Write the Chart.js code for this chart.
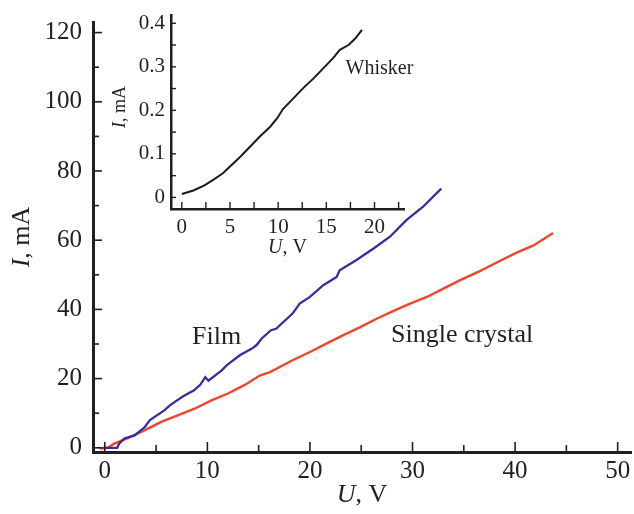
<!DOCTYPE html>
<html>
<head>
<meta charset="utf-8">
<script src="https://cdn.jsdelivr.net/npm/chart.js@4.4.1/dist/chart.umd.min.js"></script>
<style>
  html, body { margin: 0; padding: 0; background: #fff; }
  #wrap { position: relative; width: 634px; height: 514px; }
  #wrap canvas { position: absolute; left: 0; top: 0; }
</style>
</head>
<body>
<div id="wrap">
  <canvas id="mainChart" width="634" height="514"></canvas>
  <canvas id="insetChart" width="634" height="514"></canvas>
</div>
<script>
// Film (blue) I-U curve, mA vs V
const filmU = [-0.2, 1.2, 1.4, 1.9, 2.9, 3.9, 4.4, 5.8, 6.4, 7.6, 8.7, 9.3, 9.8, 10.1, 11.4, 11.9, 13.2, 14.3, 14.8, 15.3, 16.2, 16.7, 18.3, 19.0, 20.0, 21.3, 22.6, 22.9, 24.5, 26.2, 27.8, 29.4, 31.0, 32.8];
const filmI = [0.0, 0.0, 1.2, 2.7, 3.6, 6.0, 8.0, 10.8, 12.4, 14.8, 16.6, 18.2, 20.4, 19.4, 22.4, 23.9, 26.8, 28.6, 29.7, 31.6, 34.0, 34.4, 38.8, 41.7, 43.6, 47.0, 49.4, 51.3, 54.2, 57.6, 61.0, 65.8, 69.6, 74.9];

// Single crystal (red)
const crystalU = [-0.5, 0.3, 0.9, 2.2, 3.9, 5.5, 7.1, 8.75, 10.4, 12.0, 13.6, 15.1, 16.1, 18.3, 20.0, 21.6, 23.2, 24.9, 26.5, 28.1, 29.7, 31.4, 33.0, 34.6, 36.5, 38.5, 40.2, 41.8, 43.7];
const crystalI = [-0.2, 0.0, 1.2, 2.7, 5.1, 7.5, 9.4, 11.3, 13.7, 15.7, 18.1, 20.9, 21.9, 25.3, 27.7, 30.1, 32.5, 34.9, 37.3, 39.5, 41.6, 43.6, 46.0, 48.4, 51.0, 54.0, 56.5, 58.5, 62.1];

// Whisker (inset, black)
const whiskerU = [0.0, 1.2, 2.3, 3.3, 4.3, 5.0, 6.1, 7.1, 8.1, 9.2, 9.9, 10.5, 11.6, 12.6, 13.7, 14.7, 15.7, 16.4, 17.3, 18.0, 18.7];
const whiskerI = [0.008, 0.016, 0.027, 0.041, 0.056, 0.071, 0.094, 0.117, 0.140, 0.163, 0.182, 0.203, 0.228, 0.251, 0.274, 0.297, 0.320, 0.339, 0.350, 0.365, 0.385];

// tick values
const mainXTicks = [0, 10, 20, 30, 40, 50];
const mainXMinor = [5, 15, 25, 35, 45];
const mainYTicks = [0, 20, 40, 60, 80, 100, 120];
const mainYMinor = [10, 30, 50, 70, 90, 110];
const insetXTicks = [0, 5, 10, 15, 20];
const insetXMinor = [2.5, 7.5, 12.5, 17.5, 22.5];
const insetYTicks = [0, 0.1, 0.2, 0.3, 0.4];
const insetYMinor = [0.05, 0.15, 0.25, 0.35];

const SERIF = '"Liberation Serif", "DejaVu Serif", serif';
const INK = '#231f20';

function pts(xs, ys) {
  return xs.map((x, i) => ({ x: x, y: ys[i] }));
}

function drawRich(ctx, t) {
  const fonts = t.parts.map(p => (p[1] ? 'italic ' : '') + t.size + 'px ' + SERIF);
  let w = 0;
  const ws = t.parts.map((p, i) => {
    ctx.font = fonts[i];
    const m = ctx.measureText(p[0]).width;
    w += m;
    return m;
  });
  ctx.save();
  ctx.translate(t.x, t.y);
  ctx.rotate(t.rot || 0);
  ctx.textBaseline = 'middle';
  ctx.textAlign = 'left';
  let x = -w / 2;
  t.parts.forEach((p, i) => {
    ctx.font = fonts[i];
    ctx.fillText(p[0], x, 0);
    x += ws[i];
  });
  ctx.restore();
}

// tick marks pointing into the plot, long for major, short for minor
const inwardTicks = {
  id: 'inwardTicks',
  afterDatasetsDraw(chart, args, o) {
    const ctx = chart.ctx, area = chart.chartArea;
    ctx.save();
    ctx.strokeStyle = INK;
    ['x', 'y'].forEach(id => {
      const spec = o[id], s = chart.scales[id];
      ctx.lineWidth = spec.width;
      s.ticks.forEach(t => {
        const len = spec.major.includes(t.value) ? spec.majorLen : spec.minorLen;
        const p = s.getPixelForValue(t.value);
        ctx.beginPath();
        if (id === 'x') {
          ctx.moveTo(p, area.bottom);
          ctx.lineTo(p, area.bottom - len);
        } else {
          ctx.moveTo(area.left, p);
          ctx.lineTo(area.left + len, p);
        }
        ctx.stroke();
      });
    });
    ctx.restore();
  }
};

// curve labels and axis titles
const notes = {
  id: 'notes',
  afterDraw(chart, args, o) {
    const ctx = chart.ctx, area = chart.chartArea;
    const xs = chart.scales.x, ys = chart.scales.y;
    ctx.save();
    ctx.fillStyle = INK;
    (o.labels || []).forEach(l => {
      ctx.font = l.size + 'px ' + SERIF;
      ctx.textAlign = 'left';
      ctx.textBaseline = 'alphabetic';
      ctx.fillText(l.text, xs.getPixelForValue(l.x), ys.getPixelForValue(l.y));
    });
    (o.titles || []).forEach(t => {
      const cx = t.axis === 'x' ? (area.left + area.right) / 2 : area.left - t.off;
      const cy = t.axis === 'x' ? area.bottom + t.off : (area.top + area.bottom) / 2 + (t.dy || 0);
      drawRich(ctx, Object.assign({}, t, { x: cx, y: cy }));
    });
    ctx.restore();
  }
};

function axis(min, max, major, minor, size, horizontal, font, pad, fmt, borderW) {
  return {
    type: 'linear',
    min: min,
    max: max,
    grid: { display: false, drawTicks: false },
    border: { display: true, width: borderW, color: INK },
    ticks: {
      autoSkip: false,
      maxRotation: 0,
      padding: pad,
      color: INK,
      font: { family: SERIF, size: font },
      callback: v => (major.includes(v) ? fmt(v) : '')
    },
    afterBuildTicks: s => {
      s.ticks = major.concat(minor).sort((a, b) => a - b).map(v => ({ value: v }));
    },
    afterFit: s => {
      if (horizontal) s.height = size; else s.width = size;
      s.paddingLeft = s.paddingRight = s.paddingTop = s.paddingBottom = 0;
    }
  };
}

new Chart(document.getElementById('mainChart'), {
  type: 'line',
  data: {
    datasets: [
      { label: 'Film', data: pts(filmU, filmI), borderColor: '#3a2c9e', borderWidth: 2.3 },
      { label: 'Single crystal', data: pts(crystalU, crystalI), borderColor: '#f2452b', borderWidth: 2.4 }
    ]
  },
  options: {
    responsive: false,
    animation: false,
    parsing: false,
    layout: { padding: { top: 22, right: 3, left: 0, bottom: 0 } },
    elements: { point: { radius: 0 }, line: { tension: 0 } },
    scales: {
      x: axis(-1.15, 51.3, mainXTicks, mainXMinor, 62, true, 25, 4, v => String(v), 3),
      y: axis(-1.21, 123.06, mainYTicks, mainYMinor, 93, false, 25, 11, v => String(v), 3)
    },
    plugins: {
      legend: { display: false },
      tooltip: { enabled: false },
      inwardTicks: {
        x: { major: mainXTicks, majorLen: 10, minorLen: 7, width: 1.6 },
        y: { major: mainYTicks, majorLen: 9, minorLen: 6, width: 1.6 }
      },
      notes: {
        labels: [
          { text: 'Film', x: 8.5, y: 30.1, size: 26 },
          { text: 'Single crystal', x: 27.9, y: 30.6, size: 26 }
        ],
        titles: [
          { axis: 'x', off: 43, size: 26, parts: [['U', true], [', V', false]] },
          { axis: 'y', off: 71, size: 26, rot: -Math.PI / 2, parts: [['I', true], [', mA', false]] }
        ]
      }
    }
  },
  plugins: [inwardTicks, notes]
});

new Chart(document.getElementById('insetChart'), {
  type: 'line',
  data: {
    datasets: [
      { label: 'Whisker', data: pts(whiskerU, whiskerI), borderColor: '#1a1a1a', borderWidth: 2 }
    ]
  },
  options: {
    responsive: false,
    animation: false,
    parsing: false,
    layout: { padding: { top: 15, right: 230, left: 0, bottom: 0 } },
    elements: { point: { radius: 0 }, line: { tension: 0 } },
    scales: {
      x: axis(-1.12, 23.06, insetXTicks, insetXMinor, 305, true, 21, 6, v => String(v), 2.5),
      y: axis(-0.0266, 0.419, insetYTicks, insetYMinor, 171, false, 21, 6, v => (v === 0 ? '0' : v.toFixed(1)), 2.5)
    },
    plugins: {
      legend: { display: false },
      tooltip: { enabled: false },
      inwardTicks: {
        x: { major: insetXTicks, majorLen: 7, minorLen: 7, width: 1.4 },
        y: { major: insetYTicks, majorLen: 5, minorLen: 5, width: 1.4 }
      },
      notes: {
        labels: [
          { text: 'Whisker', x: 17.0, y: 0.283, size: 20 }
        ],
        titles: [
          { axis: 'x', off: 39, size: 20, parts: [['U', true], [', V', false]] },
          { axis: 'y', off: 51, size: 18, dy: -5, rot: -Math.PI / 2, parts: [['I', true], [', mA', false]] }
        ]
      }
    }
  },
  plugins: [inwardTicks, notes]
});
</script>
</body>
</html>
